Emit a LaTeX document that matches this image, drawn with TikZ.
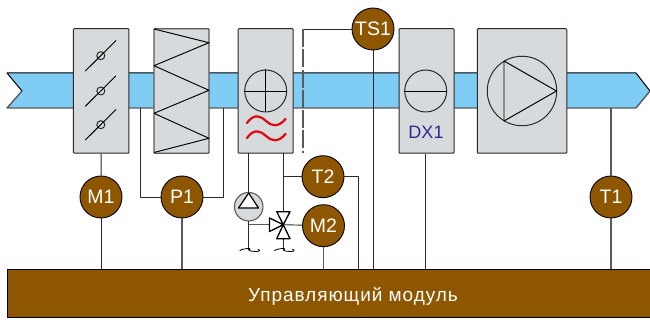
\documentclass[tikz,border=0pt]{standalone}
\usepackage{fontspec}
\setmainfont{Liberation Sans}
\definecolor{duct}{HTML}{7FCDF5}
\definecolor{unitgray}{HTML}{D6DADC}
\definecolor{brownc}{HTML}{8F5600}
\definecolor{wire}{HTML}{2A2A2A}
\definecolor{wireg}{HTML}{5A5A5A}
\definecolor{dxblue}{HTML}{2E2A8C}
\definecolor{redc}{HTML}{E30613}
\begin{document}
\begin{tikzpicture}[x=1pt,y=-1pt,line join=round,
  unit/.style={draw=wire,line width=1pt,fill=unitgray,rounded corners=.8pt,inner sep=0pt,minimum height=124.5pt},
  sensor/.style={circle,draw=black,line width=.9pt,fill=brownc,text=white,inner sep=0pt,minimum size=42pt,font=\fontsize{19.5}{19.5}\selectfont},
  wireline/.style={draw=wire,line width=.9pt},
  wiregray/.style={draw=wireg,line width=1.2pt},
  sym/.style={draw=black,line width=.95pt},
  valve/.style={draw=black,line width=1.3pt,fill=white},
  hub/.style={circle,draw=wire,line width=1pt,inner sep=0pt},
  wig/.style={draw=black,line width=.8pt}]
\useasboundingbox (0,0) rectangle (650,320);
% duct
\fill[duct] (7,73) -- (636,73) -- (650,91) -- (636,108) -- (7,108) -- (22,91) -- cycle;
\draw[black,line width=1pt] (22,91) -- (7,73) -- (636,73) -- (650,91);
\draw[wireg,line width=1.4pt] (650,91) -- (636,108) -- (7,108) -- (22,91);
% units
\node[unit,minimum width=55.5pt] (b1) at (101.2,91) {};
\node[unit,minimum width=55pt,draw=wireg,line width=1.4pt] (b2) at (181.5,91) {};
\node[unit,minimum width=55pt] (b3) at (265.7,91) {};
\node[unit,minimum width=55pt] (b4) at (426.5,91) {};
\node[unit,minimum width=89.5pt] (b5) at (522,91) {};
% dampers
\foreach \yy/\n in {55.7/a,91/b,124.7/c}{
  \node[hub,minimum size=8pt] (d\n) at (100.8,\yy) {};
  \draw[sym] (85.2,\yy+15.4) -- (116,\yy-15.2);
}
% coil
\draw[sym] (154,29) -- (209,42.7) -- (154,65.7) -- (209,90.3) -- (154,113.3) -- (209,138.3) -- (154,152.5);
% heater
\node[hub,minimum size=42pt] (h) at (b3.center) {};
\draw[sym] (h.north) -- (h.south) (h.west) -- (h.east);
\foreach \yy in {121,136}{
  \draw[redc,line width=2.2pt,line cap=round] (247,\yy+2) .. controls (254,\yy-8) and (261,\yy-5) .. (266,\yy) .. controls (271,\yy+5) and (278,\yy+7) .. (285.5,\yy-2);
}
% DX
\node[hub,minimum size=42pt] (c) at (425.7,91) {};
\draw[sym] (c.west) -- (c.east);
\node[text=dxblue,font=\fontsize{18}{18}\selectfont,inner sep=0pt] (dx) at (426,132) {DX1};
% fan
\node[hub,minimum size=69.5pt] (f) at (522,91) {};
\draw[sym] (504,61) -- (556.5,91) -- (504,121) -- cycle;
% sensors
\node[sensor] (TS) at (373,29) {TS1};
\node[sensor] (T2) at (323,176.7) {T2};
\node[sensor] (M2) at (323.5,225.7) {M2};
\node[sensor] (M1) at (101,197) {M1};
\node[sensor] (P1) at (182,197) {P1};
\node[sensor] (T1) at (611,197) {T1};
% control module
\node[draw=black,line width=1pt,fill=brownc,inner sep=0pt,minimum width=646pt,minimum height=48.5pt] (cm) at (330,293.3) {};
\node[text=white,inner sep=0pt,font=\fontsize{19}{19}\selectfont\addfontfeature{LetterSpace=5}] (cmt) at (353,296) {Управляющий модуль};
% named ports
\coordinate (pl) at (140,108);
\coordinate (pr) at (223,108);
\coordinate (b3a) at (248.7,153);
\coordinate (b3b) at (283.3,153);
\coordinate (ds) at (303,29);
\coordinate (de) at (303,153);
% pump
\node[circle,draw=wireg,line width=1.1pt,fill=unitgray,inner sep=0pt,minimum size=28.5pt] (pump) at (248.7,206.7) {};
\coordinate (pa) at (248.7,193);
\draw[draw=black,line width=1.2pt,fill=white] (pa) -- (238.5,208) -- (258.5,208) -- cycle;
% valve
\coordinate (v) at (283.3,224.7);
\coordinate (vt) at (283.3,211.7);
\coordinate (vb) at (283.3,238.7);
\coordinate (vl) at (269.5,224.7);
\coordinate (w1) at (248.7,250);
\coordinate (w2) at (283.3,250);
% connectors
\draw[wireline] (b1.south) -- (M1);
\draw[wireline] (M1) -- (cm.north -| M1);
\draw[wiregray] (P1) -- (cm.north -| P1);
\draw[wireline] (pl) |- (P1);
\draw[wireline] (P1) -| (pr);
\draw[wireline] (b3a) -- (pump.north);
\draw[wireline] (b3b) -- (vt);
\draw[wireline] (T2.west) -- (T2.west -| b3b);
\draw[wireline] (T2.east) -| (358,269);
\draw[wireline] (TS) -- (cm.north -| TS);
\draw[wireline] (TS.west) -- (ds);
\draw[wiregray,dash pattern=on 18pt off 2.3pt] (ds) -- (de);
\draw[wireline] (M2) -- (v);
\draw[wiregray] (M2) -- (cm.north -| M2);
\draw[wireline] (b4.south -| c) -- (cm.north -| c);
\draw[wiregray] (T1) -- (T1 |- 0,108);
\draw[wiregray] (T1) -- (cm.north -| T1);
\draw[wireline] (pump.south) -- (w1);
\draw[wiregray] (w1 |- v) -- (vl);
\draw[wireline] (vb) -- (w2);
\draw[valve] (v) -- (276.7,211.7) -- (290,211.7) -- cycle;
\draw[valve] (v) -- (276.7,238.7) -- (290,238.7) -- cycle;
\draw[valve] (v) -- (269.5,218) -- (269.5,231.5) -- cycle;
\foreach \p in {w1,w2}{
  \draw[wig] (\p)++(-9,.8) .. controls +(2.5,-2.5) and +(5.5,-2.5) .. ++(9,-.8) .. controls +(3,2.5) and +(6.5,2.5) .. ++(9,-.8);
}
\end{tikzpicture}
\end{document}
